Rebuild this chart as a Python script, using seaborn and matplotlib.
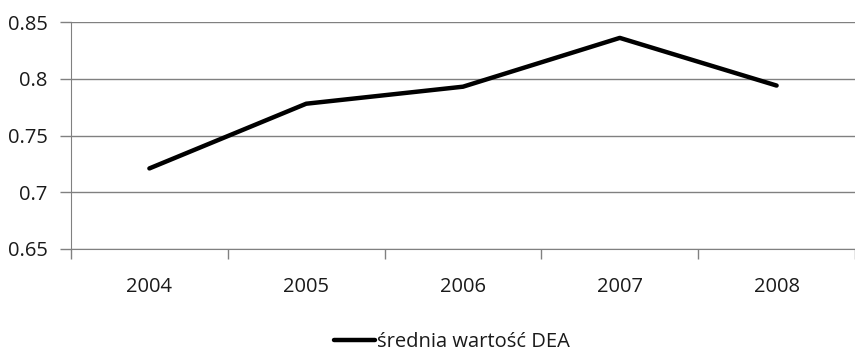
import matplotlib
matplotlib.use('Agg')
import matplotlib.pyplot as plt
import seaborn as sns
import pandas as pd

sns.set_style('white')
plt.rcParams['font.family'] = ['Open Sans', 'DejaVu Sans']
plt.rcParams['text.color'] = '#1a1a1a'

# data
years = ['2004', '2005', '2006', '2007', '2008']
dea_mean = [0.721, 0.778, 0.793, 0.836, 0.794]
series_name = 'średnia wartość DEA'

df = pd.DataFrame({'rok': years, 'wartosc': dea_mean})

fig = plt.figure(figsize=(8.55, 3.51), dpi=100)
ax = fig.add_axes([71 / 855, 1 - 249 / 351, 1 - 71 / 855, (249 - 22) / 351])

sns.lineplot(data=df, x='rok', y='wartosc', color='black', linewidth=3.2,
             label=series_name, ax=ax, sort=False)

ax.set_ylim(0.65, 0.85)
ax.set_yticks([0.65, 0.7, 0.75, 0.8, 0.85])
ax.set_yticklabels(['0.65', '0.7', '0.75', '0.8', '0.85'])
ax.set_xlim(-0.5, 4.46)
ax.set_xticks(range(len(years)))
ax.set_xticklabels(years)
ax.set_xlabel('')
ax.set_ylabel('')

ax.yaxis.grid(True, color='#808080', linewidth=1.0)
ax.set_axisbelow(True)
for s in ['top', 'right']:
    ax.spines[s].set_visible(False)
ax.spines['left'].set_color('#808080')
ax.spines['bottom'].set_color('#808080')

# y ticks as short outward marks, x ticks at category boundaries
ax.tick_params(axis='y', length=8, width=1, color='#808080', labelsize=14.5,
               labelcolor='#1a1a1a', pad=9, left=True)
ax.tick_params(axis='x', length=0, labelsize=14.5, labelcolor='#1a1a1a', pad=20)
ax.set_xticks([i - 0.5 for i in range(len(years) + 1)], minor=True)
ax.tick_params(axis='x', which='minor', length=7, width=1, color='#808080', bottom=True)

ax.legend(loc='center', bbox_to_anchor=(452 / 855, 0.025), bbox_transform=fig.transFigure,
          frameon=False, fontsize=14.5, handlelength=2.0, handletextpad=0.1)

fig.savefig('out.png', dpi=100)
